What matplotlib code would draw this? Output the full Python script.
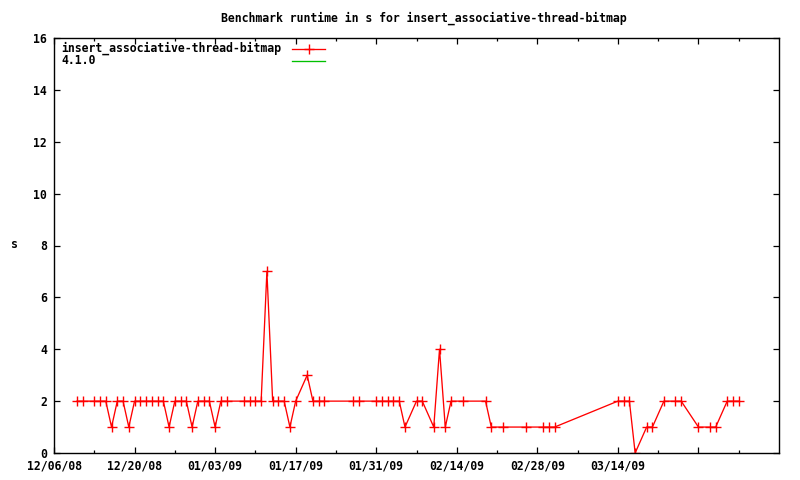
import matplotlib
matplotlib.use("Agg")
import matplotlib.pyplot as plt
import matplotlib.dates as mdates
from matplotlib.ticker import FixedLocator, FixedFormatter, NullFormatter
from datetime import datetime

title = "Benchmark runtime in s for insert_associative-thread-bitmap"
series_label = "insert_associative-thread-bitmap"
release_label = "4.1.0"
y_label = "s"

dates = [
    "2008-12-10", "2008-12-11", "2008-12-13", "2008-12-14", "2008-12-15", "2008-12-16",
    "2008-12-17", "2008-12-18", "2008-12-19", "2008-12-20", "2008-12-21", "2008-12-22",
    "2008-12-23", "2008-12-24", "2008-12-25", "2008-12-26", "2008-12-27", "2008-12-28",
    "2008-12-29", "2008-12-30", "2008-12-31", "2009-01-01", "2009-01-02", "2009-01-03",
    "2009-01-04", "2009-01-05", "2009-01-08", "2009-01-09", "2009-01-10", "2009-01-11",
    "2009-01-12", "2009-01-13", "2009-01-14", "2009-01-15", "2009-01-16", "2009-01-17",
    "2009-01-19", "2009-01-20", "2009-01-21", "2009-01-22", "2009-01-27", "2009-01-28",
    "2009-01-31", "2009-02-01", "2009-02-02", "2009-02-03", "2009-02-04", "2009-02-05",
    "2009-02-07", "2009-02-08", "2009-02-10", "2009-02-11", "2009-02-12", "2009-02-13",
    "2009-02-15", "2009-02-19", "2009-02-20", "2009-02-22", "2009-02-26", "2009-03-01",
    "2009-03-02", "2009-03-03", "2009-03-14", "2009-03-15", "2009-03-16", "2009-03-17",
    "2009-03-19", "2009-03-20", "2009-03-22", "2009-03-24", "2009-03-25", "2009-03-28",
    "2009-03-30", "2009-03-31", "2009-04-02", "2009-04-03", "2009-04-04",
]
runtimes = [
    2, 2, 2, 2, 2, 1,
    2, 2, 1, 2, 2, 2,
    2, 2, 2, 1, 2, 2,
    2, 1, 2, 2, 2, 1,
    2, 2, 2, 2, 2, 2,
    7, 2, 2, 2, 1, 2,
    3, 2, 2, 2, 2, 2,
    2, 2, 2, 2, 2, 1,
    2, 2, 1, 4, 1, 2,
    2, 2, 1, 1, 1, 1,
    1, 1, 2, 2, 2, 0,
    1, 1, 2, 2, 2, 1,
    1, 1, 2, 2, 2,
]

x_start = "2008-12-06"
x_end = "2009-04-11"
major_tick_dates = ["2008-12-06", "2008-12-20", "2009-01-03", "2009-01-17", "2009-01-31",
                    "2009-02-14", "2009-02-28", "2009-03-14", "2009-03-28"]
major_tick_labels = ["12/06/08", "12/20/08", "01/03/09", "01/17/09", "01/31/09",
                     "02/14/09", "02/28/09", "03/14/09", ""]
minor_tick_dates = ["2008-12-13", "2008-12-27", "2009-01-10", "2009-01-24", "2009-02-07",
                    "2009-02-21", "2009-03-07", "2009-03-21", "2009-04-04"]
y_ticks = [0, 2, 4, 6, 8, 10, 12, 14, 16]

def to_num(s):
    return mdates.date2num(datetime.strptime(s, "%Y-%m-%d"))

FONT = dict(family="DejaVu Sans Mono", weight="bold", size=8.3)
RED = "#ff0000"
GREEN = "#00c000"
LW = 0.95
MS = 7

fig = plt.figure(figsize=(8, 4.8), dpi=100)
ax = fig.add_axes([54 / 800, 1 - 453 / 480, (779 - 54) / 800, (453 - 38) / 480])

xs = [to_num(d) for d in dates]
ax.plot(xs, runtimes, color=RED, lw=LW, marker="+", markersize=MS, markeredgewidth=1.0)
ax.plot([], [], color=GREEN, lw=LW)

ax.set_xlim(to_num(x_start), to_num(x_end))
ax.set_ylim(0, 16)

ax.xaxis.set_major_locator(FixedLocator([to_num(d) for d in major_tick_dates]))
ax.xaxis.set_major_formatter(FixedFormatter(major_tick_labels))
ax.xaxis.set_minor_locator(FixedLocator([to_num(d) for d in minor_tick_dates]))
ax.xaxis.set_minor_formatter(NullFormatter())
ax.set_yticks(y_ticks)
ax.set_yticklabels([str(v) for v in y_ticks])

ax.tick_params(which="major", direction="in", length=4, width=0.9, top=True, right=True,
               colors="black", pad=5)
ax.tick_params(which="minor", direction="in", length=2, width=0.9, top=True, right=True)
ax.tick_params(axis="x", pad=5)
for lab in ax.get_xticklabels() + ax.get_yticklabels():
    lab.set_fontfamily(FONT["family"])
    lab.set_fontweight(FONT["weight"])
    lab.set_fontsize(FONT["size"])
for sp in ax.spines.values():
    sp.set_linewidth(1.0)
    sp.set_color("black")

# legend (gnuplot style: text left, sample right)
tx = (61 - 54) / 725
ax.text(tx, (453 - 48) / 415, series_label,
        transform=ax.transAxes, ha="left", va="center", **FONT)
ax.text(tx, (453 - 61) / 415, release_label,
        transform=ax.transAxes, ha="left", va="center", **FONT)
lx0, lx1 = (292 - 54) / 725, (325 - 54) / 725
ax.plot([lx0, lx1], [(453 - 49) / 415] * 2, color=RED, lw=LW, transform=ax.transAxes)
ax.plot([(lx0 + lx1) / 2], [(453 - 49) / 415], color=RED, marker="+", markersize=MS,
        markeredgewidth=1.0, transform=ax.transAxes)
ax.plot([lx0, lx1], [(453 - 61) / 415] * 2, color=GREEN, lw=LW, transform=ax.transAxes)

fig.text(423.5 / 800, 1 - 18 / 480, title, ha="center", va="center", **FONT)
fig.text(14 / 800, 1 - 245 / 480, y_label, ha="center", va="center", **FONT)

fig.savefig("out.png", dpi=100)
